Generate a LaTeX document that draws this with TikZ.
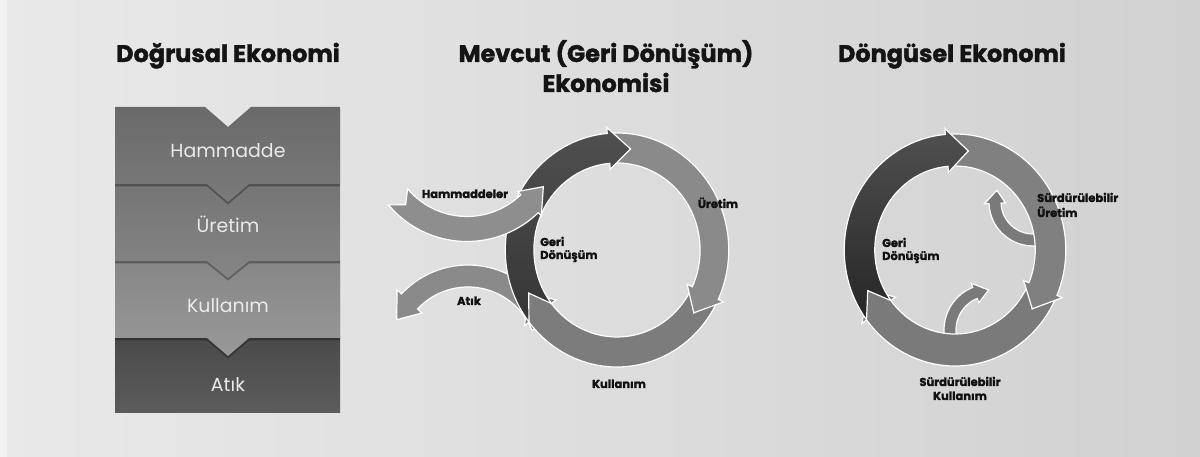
\documentclass[tikz,border=0pt]{standalone}
\usepackage{fontspec}
\setmainfont{Poppins}[BoldFeatures={FakeBold=1.6}]
\definecolor{bgL}{HTML}{E9E9E9}
\definecolor{bgR}{HTML}{D1D1D1}
\definecolor{bgE}{HTML}{F2F2F2}
\definecolor{bOneT}{HTML}{6A6A6A}
\definecolor{bOneB}{HTML}{7A7A7A}
\definecolor{bTwoT}{HTML}{757575}
\definecolor{bTwoB}{HTML}{858585}
\definecolor{bThrT}{HTML}{878787}
\definecolor{bThrB}{HTML}{989898}
\definecolor{bFouT}{HTML}{4A4A4A}
\definecolor{bFouB}{HTML}{5C5C5C}
\definecolor{ureM}{HTML}{8A8A8A}
\definecolor{kulM}{HTML}{7C7C7C}
\definecolor{geriMT}{HTML}{505050}
\definecolor{geriMB}{HTML}{363636}
\definecolor{hamC}{HTML}{8E8E8E}
\definecolor{atkC}{HTML}{8A8A8A}
\definecolor{ureR}{HTML}{808080}
\definecolor{kulR}{HTML}{7A7A7A}
\definecolor{geriRT}{HTML}{505050}
\definecolor{geriRB}{HTML}{262626}
\definecolor{smallC}{HTML}{7A7A7A}
\definecolor{lblC}{HTML}{111111}
\definecolor{bandTxt}{HTML}{EAEAEA}
% curved arrow: #1 style, #2 radius, #3 half width, #4 head half width,
% #5 start angle, #6 tip angle, #7 head length (deg), #8 tail notch (deg)
\newcommand\curvarrow[8]{%
  \pgfmathsetmacro\myD{(#6>#5) ? 1 : -1}%
  \pgfmathsetmacro\myHB{#6-\myD*#7}%
  \pgfmathsetmacro\myNT{#5+\myD*#8}%
  \pgfmathsetmacro\myRO{#2+#3}%
  \pgfmathsetmacro\myRI{#2-#3}%
  \pgfmathsetmacro\myWO{#2+#4}%
  \pgfmathsetmacro\myWI{#2-#4}%
  \path[#1] (#5:\myRO) arc[start angle=#5, end angle=\myHB, radius=\myRO]
    -- (\myHB:\myWO) -- (#6:#2) -- (\myHB:\myWI) -- (\myHB:\myRI)
    arc[start angle=\myHB, end angle=#5, radius=\myRI] -- (\myNT:#2) -- cycle;}
\begin{document}
\begin{tikzpicture}[x=1bp,y=1bp,
  title/.style={font=\fontsize{24}{28}\selectfont\bfseries, text=black!92, inner sep=0},
  bandtext/.style={font=\fontsize{19}{22}\selectfont, text=bandTxt, inner sep=0},
  lbl/.style={font=\fontsize{11.5}{14}\selectfont\bfseries, text=lblC, inner sep=0},
  seg/.style={draw=white, line width=1.2bp, line join=miter},
  shadowband/.style={fill=black, fill opacity=0.3}]
% background
\shade[left color=bgL, right color=bgR] (0,0) rectangle (1200,457);
\fill[bgE] (0,0) rectangle (7,457);
\useasboundingbox (0,0) rectangle (1200,457);

% ---------- left: linear economy ----------
\shade[top color=bFouT, bottom color=bFouB] (115,44) rectangle (340,119);
\fill[shadowband] (115,116.5) -- (115,193.5) -- (340,193.5) -- (340,116.5) -- (249,116.5) -- (228,98.5) -- (207,116.5) -- cycle;
\shade[top color=bThrT, bottom color=bThrB] (115,119) -- (115,196) -- (340,196) -- (340,119) -- (249,119) -- (228,101) -- (207,119) -- cycle;
\fill[shadowband] (115,193.5) -- (115,270.5) -- (340,270.5) -- (340,193.5) -- (249,193.5) -- (228,176.5) -- (207,193.5) -- cycle;
\shade[top color=bTwoT, bottom color=bTwoB] (115,196) -- (115,273) -- (340,273) -- (340,196) -- (249,196) -- (228,179) -- (207,196) -- cycle;
\fill[shadowband] (115,270.5) -- (115,347.5) -- (205,347.5) -- (228,327.5) -- (251,347.5) -- (340,347.5) -- (340,270.5) -- (249,270.5) -- (228,252.5) -- (207,270.5) -- cycle;
\shade[top color=bOneT, bottom color=bOneB] (115,273) -- (115,350) -- (205,350) -- (228,330) -- (251,350) -- (340,350) -- (340,273) -- (249,273) -- (228,255) -- (207,273) -- cycle;

\node[bandtext, anchor=base] (tHam) at (228,299) {Hammadde};
\node[bandtext, anchor=base] (tUre) at (228,224) {Üretim};
\node[bandtext, anchor=base] (tKul) at (228,144) {Kullanım};
\node[bandtext, anchor=base] (tAtk) at (228,65) {Atık};

% ---------- titles ----------
\node[title, anchor=base] (t1) at (228,395) {Doğrusal Ekonomi};
\node[title, anchor=base] (t2) at (606,395) {Mevcut (Geri Dönüşüm)};
\node[title, anchor=base] (t2b) at (606,365) {Ekonomisi};
\node[title, anchor=base] (t3) at (952,395) {Döngüsel Ekonomi};

% ---------- middle: recycling economy ----------
\begin{scope}[shift={(468,101)}]
  \curvarrow{seg, fill=atkC}{80}{11}{17}{22}{153}{16}{0}
\end{scope}
\begin{scope}[shift={(617,207)}, xscale=0.955]
  \curvarrow{seg, fill=kulM}{102}{15}{21}{-25}{-155}{13}{13}
  \curvarrow{seg, fill=ureM}{102}{15}{21}{95}{-38}{13}{13}
  \curvarrow{seg, top color=geriMT, bottom color=geriMB}{102}{15}{21}{218}{82}{13}{13}
\end{scope}
\begin{scope}[shift={(467,318)}]
  \curvarrow{seg, fill=hamC}{90}{12.5}{17}{220}{328}{14}{7}
\end{scope}

\node[lbl, anchor=base] (mHam) at (465,259) {Hammaddeler};
\node[lbl, anchor=base] (mAtk) at (469,152) {Atık};
\node[lbl, anchor=base west] (mGeri) at (540,211) {Geri};
\node[lbl, anchor=base west] (mDon) at (540,198) {Dönüşüm};
\node[lbl, anchor=base] (mUre) at (718,249) {Üretim};
\node[lbl, anchor=base] (mKul) at (619,69) {Kullanım};

% ---------- right: circular economy ----------
\begin{scope}[shift={(1033,255)}]
  \curvarrow{seg, fill=smallC}{38}{6}{10.5}{285}{162}{20}{0}
\end{scope}
\begin{scope}[shift={(990,127)}]
  \curvarrow{seg, fill=smallC}{40}{6}{10.5}{195}{92}{20}{0}
\end{scope}
\begin{scope}[shift={(955,207)}, xscale=0.955]
  \curvarrow{seg, fill=kulR}{100}{16}{22}{-23}{-156}{13}{13}
  \curvarrow{seg, fill=ureR}{100}{16}{22}{95}{-36}{13}{13}
  \curvarrow{seg, top color=geriRT, bottom color=geriRB}{100}{16}{22}{217}{82}{13}{13}
\end{scope}

\node[lbl, anchor=base west] (rSU1) at (1037,255) {Sürdürülebilir};
\node[lbl, anchor=base west] (rSU2) at (1037,240) {Üretim};
\node[lbl, anchor=base west] (rG1) at (882,210) {Geri};
\node[lbl, anchor=base west] (rG2) at (882,197) {Dönüşüm};
\node[lbl, anchor=base] (rSK1) at (960,71) {Sürdürülebilir};
\node[lbl, anchor=base] (rSK2) at (960,57) {Kullanım};
\end{tikzpicture}
\end{document}
